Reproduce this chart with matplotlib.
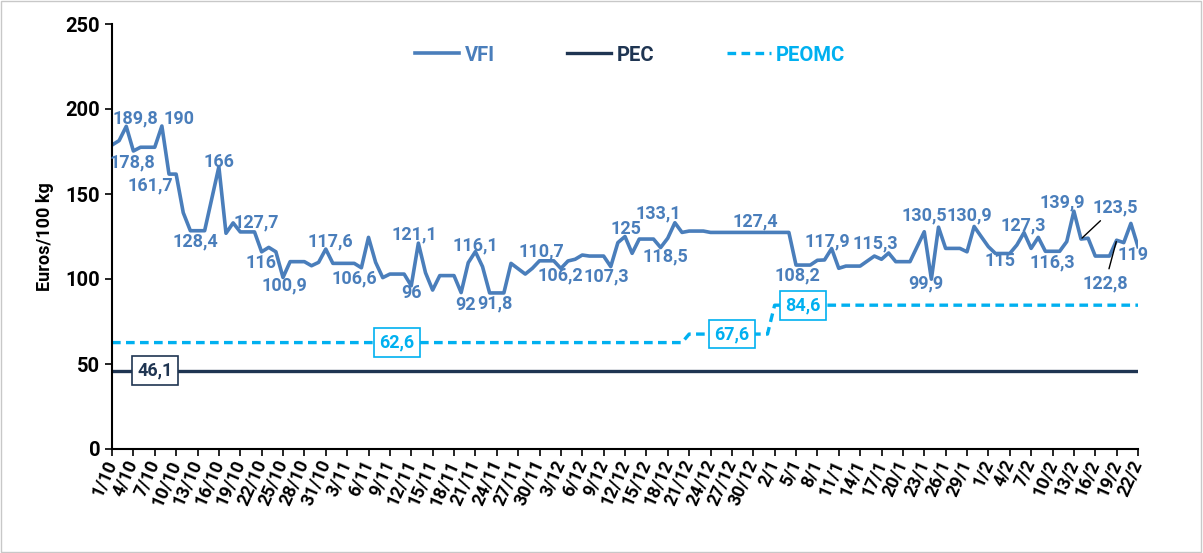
import matplotlib
matplotlib.use('Agg')
import matplotlib.pyplot as plt
from matplotlib.patches import Rectangle
import numpy as np
import pandas as pd

# daily axis 1/10 .. 22/2, labelled every third day
days = pd.date_range('2022-10-01', '2023-02-22', freq='D')
day_labels = [f'{d.day}/{d.month}' for d in days]
tick_labels = day_labels[::3]

vfi_dates = ['1/10', '2/10', '3/10', '4/10', '5/10', '7/10', '8/10', '9/10', '10/10', '11/10',
             '12/10', '14/10', '16/10', '17/10', '18/10', '19/10', '21/10', '22/10', '23/10', '24/10',
             '25/10', '26/10', '28/10', '29/10', '30/10', '31/10', '1/11', '4/11', '5/11', '6/11',
             '7/11', '8/11', '9/11', '11/11', '12/11', '13/11', '14/11', '15/11', '16/11', '18/11',
             '19/11', '20/11', '21/11', '22/11', '23/11', '25/11', '26/11', '28/11', '29/11', '30/11',
             '2/12', '3/12', '4/12', '5/12', '6/12', '7/12', '9/12', '10/12', '11/12', '12/12',
             '13/12', '14/12', '16/12', '17/12', '18/12', '19/12', '20/12', '21/12', '23/12', '24/12',
             '30/12', '4/1', '5/1', '6/1', '7/1', '8/1', '9/1', '10/1', '11/1', '12/1',
             '14/1', '16/1', '17/1', '18/1', '19/1', '21/1', '23/1', '24/1', '25/1', '26/1',
             '28/1', '29/1', '30/1', '31/1', '1/2', '2/2', '4/2', '5/2', '6/2', '7/2',
             '8/2', '9/2', '11/2', '12/2', '13/2', '14/2', '15/2', '16/2', '18/2', '19/2',
             '20/2', '21/2', '22/2']
vfi_values = [178.8, 181.4, 189.8, 175.3, 177.5, 177.5, 190, 161.7, 161.7, 139,
              128.4, 128.4, 166, 126.9, 133, 127.7, 127.7, 116, 118.6, 116,
              100.9, 110.2, 110.2, 107.8, 109.8, 117.6, 109.2, 109.2, 106.6, 124.5,
              109.8, 100.8, 102.9, 102.9, 96, 121.1, 103.7, 93.5, 102, 102,
              92, 109.6, 116.1, 107.3, 91.8, 91.8, 109.2, 102.9, 106.3, 110.7,
              110.7, 106.2, 110.6, 111.6, 114.1, 113.5, 113.5, 107.3, 121.4, 125,
              115.1, 123.5, 123.5, 118.5, 124, 133.1, 127.4, 128.2, 128.2, 127.4,
              127.4, 127.4, 108.2, 108.2, 108.2, 111, 111.2, 117.9, 106.3, 107.6,
              107.6, 113.5, 111.6, 115.3, 110.2, 110.2, 127.8, 99.9, 130.5, 118,
              118, 116, 130.9, 124.9, 119, 115, 115, 120, 127.3, 118,
              124.5, 116.3, 116.3, 122, 139.9, 123.5, 124, 113.5, 113.5, 122.8,
              121.4, 132.7, 119]

pec_dates = ['1/10', '22/2']
pec_values = [46.1, 46.1]

peomc_dates = ['1/10', '20/12', '21/12', '1/1', '2/1', '22/2']
peomc_values = [62.6, 62.6, 67.6, 67.6, 84.6, 84.6]

vfi_label_dates = ['3/10', '8/10', '1/10', '9/10', '16/10', '12/10', '19/10', '22/10', '25/10',
                   '31/10', '5/11', '13/11', '12/11', '21/11', '19/11', '23/11', '30/11', '3/12',
                   '10/12', '12/12', '19/12', '17/12', '30/12', '6/1', '10/1', '18/1', '24/1',
                   '25/1', '30/1', '2/2', '6/2', '9/2', '13/2', '14/2', '19/2', '22/2']
pec_label_dates = ['7/10']
peomc_label_dates = ['10/11', '27/12', '6/1']

# label offsets in pixels (dx, dy)
label_offsets = {
    '3/10': (9, 8), '8/10': (17, 7), '1/10': (20, -17), '9/10': (-19, -11),
    '16/10': (0, 5), '12/10': (5, -11), '19/10': (16, 9), '22/10': (-1, -11.5),
    '25/10': (1, -7.5), '31/10': (5, 7.5), '5/11': (-7, -10.5), '13/11': (-4, 9),
    '12/11': (0, -7.5), '21/11': (0, 6), '19/11': (4, -12.5), '23/11': (5, -10),
    '30/11': (2, 9), '3/12': (-1, -6.5), '10/12': (-4, -10), '12/12': (1, 7),
    '19/12': (-17, 9.5), '17/12': (5, -8.5), '30/12': (2.5, 10.5), '6/1': (-6, -10),
    '10/1': (-4.5, 7), '18/1': (-13, 9.5), '24/1': (-5.5, -4), '25/1': (-14.5, 12),
    '30/1': (-5, 11.5), '2/2': (4, -8), '6/2': (-1, 7.5), '9/2': (6.5, -11.5),
    '13/2': (-12, 9), '14/2': (34, 32), '19/2': (-11.5, -43), '22/2': (-5, -8),
}
leader_dates = ['14/2', '19/2']

c_vfi = '#4a7ebb'
c_pec = '#1f3552'
c_peomc = '#00b0f0'

plt.rcParams['font.family'] = ['Roboto', 'DejaVu Sans']
plt.rcParams['font.weight'] = 'bold'

pos = {lab: i for i, lab in enumerate(day_labels)}


def xs(dates):
    return [pos[d] for d in dates]


def fmt(v):
    return f'{v:g}'.replace('.', ',')


fig = plt.figure(figsize=(12.03, 5.53), dpi=100)
fig.patches.append(Rectangle((0.001, 0.002), 0.997, 0.996, transform=fig.transFigure,
                             fill=False, edgecolor='#c8c8c8', lw=1))
ax = fig.add_axes([112 / 1203, 1 - 449 / 553, 1026 / 1203, 425 / 553])

ax.plot(xs(vfi_dates), vfi_values, color=c_vfi, lw=2.6, label='VFI')
ax.plot(xs(pec_dates), pec_values, color=c_pec, lw=2.4, label='PEC')
ax.plot(xs(peomc_dates), peomc_values, color=c_peomc, lw=2.4,
        linestyle=(0, (2.6, 1.6)), label='PEOMC')

vfi_map = dict(zip(vfi_dates, vfi_values))
for d in vfi_label_dates:
    v = vfi_map[d]
    dx, dy = label_offsets[d]
    arrow = dict(arrowstyle='-', color='black', lw=1, shrinkA=2, shrinkB=1) if d in leader_dates else None
    ax.annotate(fmt(v), (pos[d], v), xytext=(dx, dy), textcoords='offset pixels',
                ha='center', va='center', color=c_vfi, fontsize=13, fontweight='bold',
                arrowprops=arrow)

for dates, xd, vals, col in [(pec_label_dates, pec_dates, pec_values, c_pec),
                             (peomc_label_dates, peomc_dates, peomc_values, c_peomc)]:
    for d in dates:
        v = np.interp(pos[d], xs(xd), vals)
        ax.annotate(fmt(round(v, 1)), (pos[d], v), ha='center', va='center',
                    color=col, fontsize=13, fontweight='bold',
                    bbox=dict(boxstyle='square,pad=0.3', fc='white', ec=col, lw=1.2))

ax.set_xlim(0, len(days) - 1)
ax.set_ylim(0, 250)
ax.set_yticks(range(0, 251, 50))
ax.set_xticks(range(0, len(days), 3))
ax.set_xticklabels(tick_labels, rotation=66, ha='right', va='center', rotation_mode='anchor')
ax.tick_params(axis='both', direction='out', length=5, width=1.2, colors='black', labelsize=13)
ax.tick_params(axis='y', labelsize=14.5)
for lab in ax.get_xticklabels() + ax.get_yticklabels():
    lab.set_fontweight('bold')
for s in ['top', 'right']:
    ax.spines[s].set_visible(False)
for s in ['left', 'bottom']:
    ax.spines[s].set_linewidth(1.5)
ax.set_ylabel('Euros/100 kg', fontsize=13, fontweight='bold', labelpad=8)

leg = ax.legend(ncol=3, loc='center', bbox_to_anchor=(0.505, 0.927), frameon=False,
                fontsize=14.5, handlelength=2.2, handletextpad=0.25, columnspacing=3.6)
for txt, col in zip(leg.get_texts(), [c_vfi, c_pec, c_peomc]):
    txt.set_color(col)
    txt.set_fontweight('bold')

fig.savefig('out.png', dpi=100)
